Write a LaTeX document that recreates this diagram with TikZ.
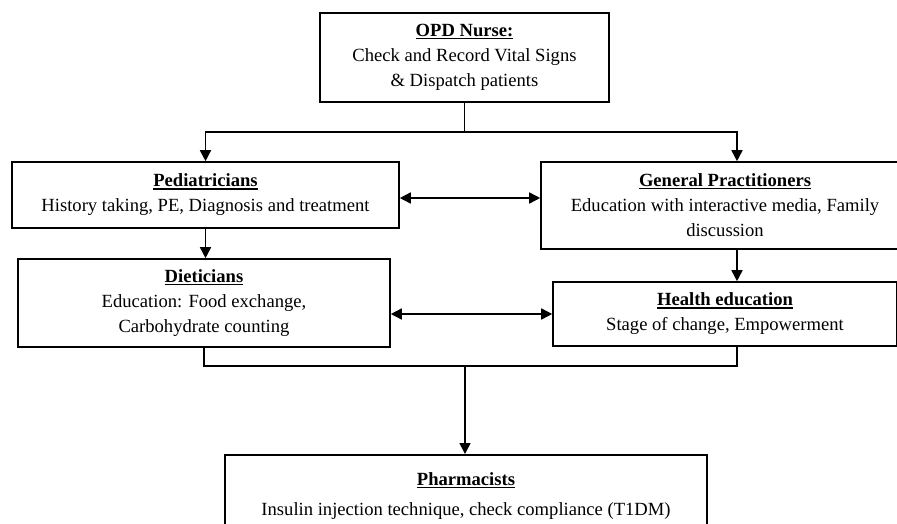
\documentclass[tikz,border=0pt]{standalone}
\usepackage{fontspec}
\setmainfont{Liberation Serif}
\usetikzlibrary{arrows.meta}
\newcommand\ulbold[1]{\setbox0\hbox{\textbf{#1}}\rlap{\rule[-2.6pt]{\wd0}{1.3pt}}\box0}
\begin{document}
\begin{tikzpicture}[x=1pt,y=-1pt,
  box/.style={draw, line width=1.6pt, rectangle, align=center, inner sep=0pt,
    font=\fontsize{18.6}{25}\selectfont},
  conn/.style={line width=1.6pt},
  arr/.style={conn, -{Triangle[length=11pt,width=11pt]}},
  darr/.style={conn, {Triangle[length=11pt,width=11pt]}-{Triangle[length=11pt,width=11pt]}}]
\useasboundingbox (0,0) rectangle (897,523);
\clip (0,0) rectangle (897,523);

\node[box, minimum width=289pt, minimum height=89pt] (opd) at (464.5,57.5)
  {\ulbold{OPD Nurse:}\\Check and Record Vital Signs\\\& Dispatch patients};
\node[box, minimum width=387pt, minimum height=66pt] (ped) at (205.5,195)
  {\ulbold{Pediatricians}\\History taking, PE, Diagnosis and treatment};
\node[box, minimum width=368pt, minimum height=87pt] (gp) at (725,205.5)
  {\ulbold{General Practitioners}\\Education with interactive media, Family\\discussion};
\node[box, minimum width=372pt, minimum height=88pt] (diet) at (204,303)
  {\ulbold{Dieticians}\\Education: Food exchange,\\Carbohydrate counting};
\node[box, minimum width=344pt, minimum height=64pt] (he) at (725,314)
  {\ulbold{Health education}\\Stage of change, Empowerment};
\node[box, minimum width=482pt, minimum height=82pt, anchor=north] (pharm) at (466,454)
  {\ulbold{Pharmacists}\\[5pt]Insulin injection technique, check compliance (T1DM)};

\coordinate (hub) at (465,132);
\coordinate (gpin) at ([xshift=12pt]gp.north);
\coordinate (gpout) at ([xshift=12pt]gp.south);
\coordinate (heout) at ([xshift=12pt]he.south);
\coordinate (join) at (465,366);

\draw[conn] (opd.south) -- (opd.south |- hub);
\draw[arr] (hub) -| (ped.north);
\draw[arr] (hub) -| (gpin);
\draw[arr] (ped.south) -- (ped.south |- diet.north);
\draw[arr] (gpout) -- (gpout |- he.north);
\draw[darr] ([yshift=-3pt]ped.east) -- ([yshift=-3pt]ped.east -| gp.west);
\draw[darr] (he.west -| diet.east) -- (he.west);
\draw[conn] (diet.south) |- (join) -| (heout);
\draw[arr] (join) -- (join |- pharm.north);
\end{tikzpicture}
\end{document}
